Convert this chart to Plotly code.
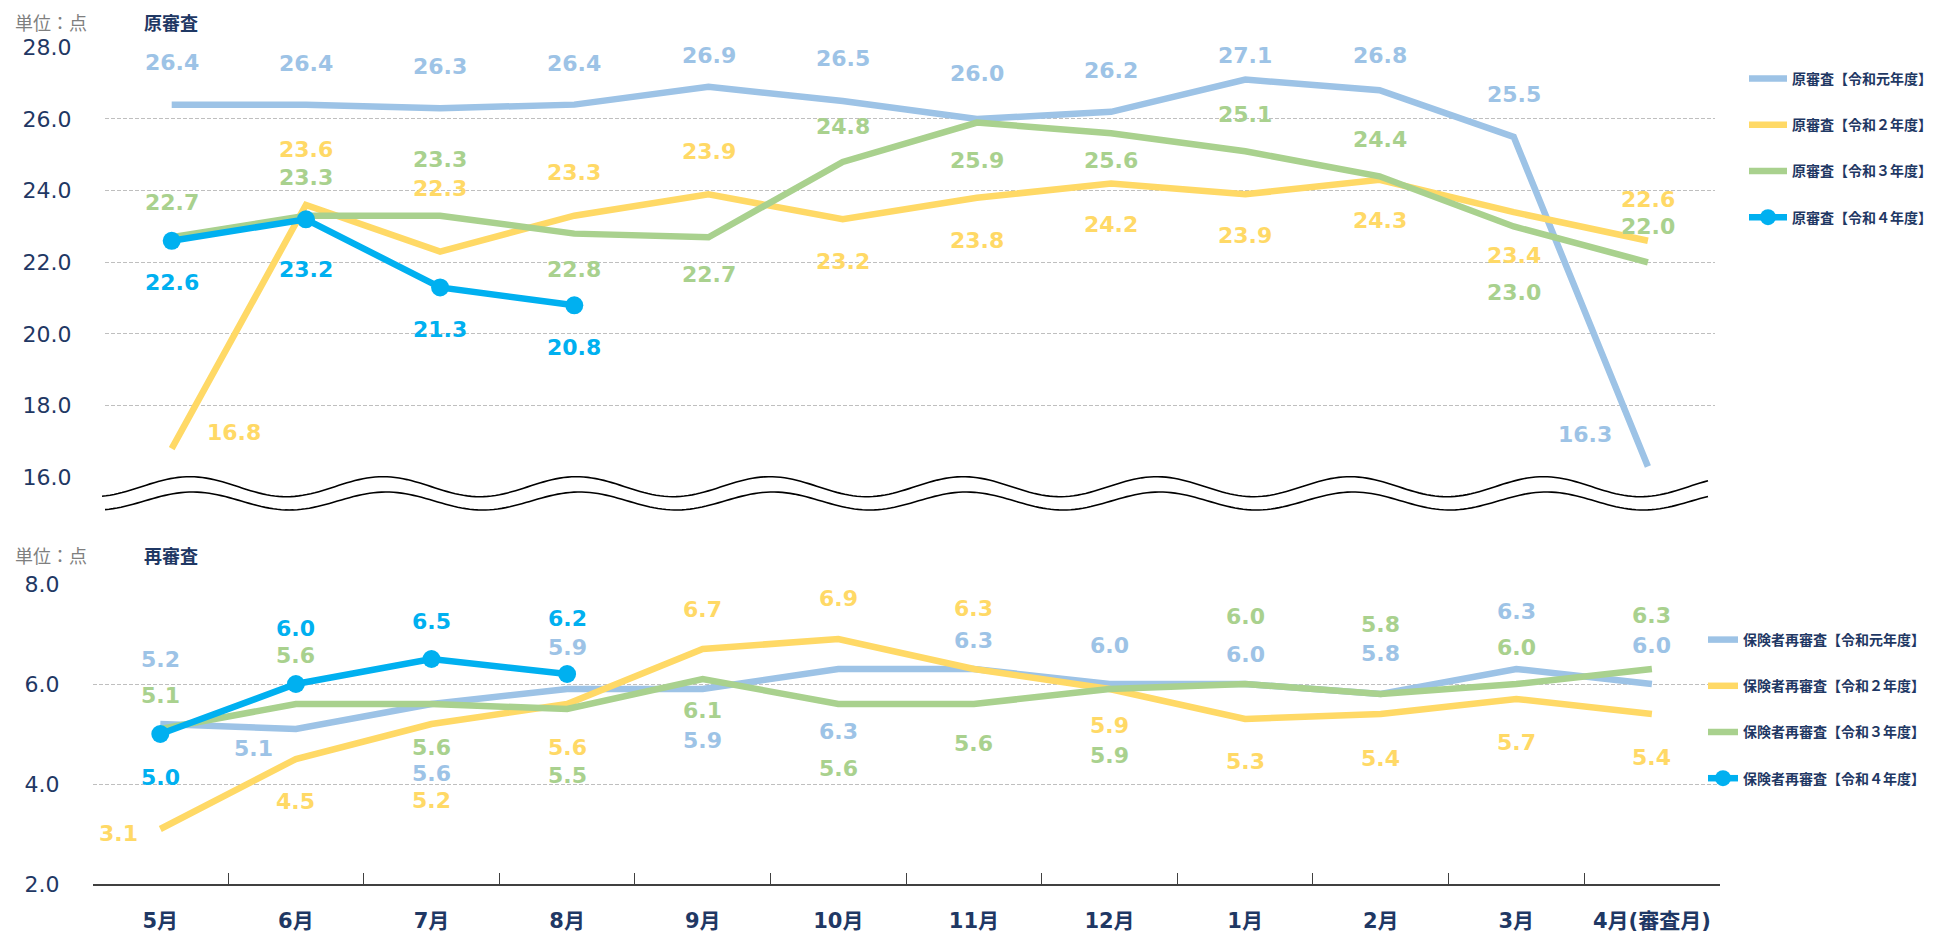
import math
import plotly.graph_objects as go

# ---------------- data ----------------
months = ["5月", "6月", "7月", "8月", "9月", "10月", "11月", "12月", "1月", "2月", "3月", "4月(審査月)"]

orig_names = ["原審査【令和元年度】", "原審査【令和２年度】", "原審査【令和３年度】", "原審査【令和４年度】"]
orig_r1 = [26.4, 26.4, 26.3, 26.4, 26.9, 26.5, 26.0, 26.2, 27.1, 26.8, 25.5, 16.3]
orig_r2 = [16.8, 23.6, 22.3, 23.3, 23.9, 23.2, 23.8, 24.2, 23.9, 24.3, 23.4, 22.6]
orig_r3 = [22.7, 23.3, 23.3, 22.8, 22.7, 24.8, 25.9, 25.6, 25.1, 24.4, 23.0, 22.0]
orig_r4 = [22.6, 23.2, 21.3, 20.8]

re_names = ["保険者再審査【令和元年度】", "保険者再審査【令和２年度】", "保険者再審査【令和３年度】", "保険者再審査【令和４年度】"]
re_r1 = [5.2, 5.1, 5.6, 5.9, 5.9, 6.3, 6.3, 6.0, 6.0, 5.8, 6.3, 6.0]
re_r2 = [3.1, 4.5, 5.2, 5.6, 6.7, 6.9, 6.3, 5.9, 5.3, 5.4, 5.7, 5.4]
re_r3 = [5.1, 5.6, 5.6, 5.5, 6.1, 5.6, 5.6, 5.9, 6.0, 5.8, 6.0, 6.3]
re_r4 = [5.0, 6.0, 6.5, 6.2]

top_ticks = [16, 18, 20, 22, 24, 26, 28]
bot_ticks = [2, 4, 6, 8]

# ---------------- styles ----------------
W, H = 1937, 937
colors = ["#9DC3E6", "#FFD966", "#A9D18E", "#00B0F0"]
NAVY = "#1F3864"
NUMFONT = "DejaVu Sans, Noto Sans CJK JP"
JPFONT = "Noto Sans CJK JP, DejaVu Sans"

# label offsets in pixels (dx right, dy down)
top_dy = [
    [-42, -41, -42, -41, -31, -43, -45, -41, -24, -35, -42, -32],
    [-16, -55, -63, -43, -43, 42, 43, 41, 41, 41, 43, -41],
    [-35, -38, -56, 36, 37, -35, 38, 27, -37, -37, 66, -36],
    [42, 50, 42, 42],
]
top_dx = [
    [0] * 11 + [-63],
    [62] + [0] * 11,
    [0] * 12,
    [0] * 4,
]
bot_dy = [
    [-65, 19, 69, -42, 51, 62, -29, -39, -30, -41, -58, -39],
    [4, 42, 76, 43, -40, -41, -61, 36, 42, 44, 43, 43],
    [-34, -49, 43, 66, 31, 64, 39, 66, -68, -70, -37, -54],
    [43, -56, -38, -56],
]
bot_dx = [
    [0, -42] + [0] * 10,
    [-42] + [0] * 11,
    [0] * 12,
    [0] * 4,
]


def px2x(px):
    return px / W


def px2y(py):
    return 1 - py / H


fig = go.Figure()

orig_series = [orig_r1, orig_r2, orig_r3, orig_r4]
re_series = [re_r1, re_r2, re_r3, re_r4]

for k, vals in enumerate(orig_series):
    is4 = k == 3
    fig.add_trace(go.Scatter(
        x=months[:len(vals)], y=vals, name=orig_names[k],
        mode="lines+markers" if is4 else "lines",
        line=dict(color=colors[k], width=6.5),
        marker=dict(size=18, color=colors[k]),
        xaxis="x", yaxis="y", legend="legend", legendgroup="o%d" % k,
        hoverinfo="skip",
    ))

for k, vals in enumerate(re_series):
    is4 = k == 3
    fig.add_trace(go.Scatter(
        x=months[:len(vals)], y=vals, name=re_names[k],
        mode="lines+markers" if is4 else "lines",
        line=dict(color=colors[k], width=6.5),
        marker=dict(size=18, color=colors[k]),
        xaxis="x2", yaxis="y2", legend="legend2", legendgroup="r%d" % k,
        hoverinfo="skip",
    ))

annotations = []
for k, vals in enumerate(orig_series):
    for i, v in enumerate(vals):
        annotations.append(dict(
            x=months[i], y=v, xref="x", yref="y", text="<b>%.1f</b>" % v,
            showarrow=False, xshift=top_dx[k][i], yshift=-top_dy[k][i],
            font=dict(family=NUMFONT, size=22, color=colors[k]),
        ))
for k, vals in enumerate(re_series):
    for i, v in enumerate(vals):
        annotations.append(dict(
            x=months[i], y=v, xref="x2", yref="y2", text="<b>%.1f</b>" % v,
            showarrow=False, xshift=bot_dx[k][i], yshift=-bot_dy[k][i],
            font=dict(family=NUMFONT, size=22, color=colors[k]),
        ))

# titles
for ypx, title in [(21.5, "原審査"), (555, "再審査")]:
    annotations.append(dict(
        x=px2x(13), y=px2y(ypx), xref="paper", yref="paper", xanchor="left", yanchor="middle",
        text="単位：点", showarrow=False, font=dict(family=JPFONT, size=18, color="#7F7F7F"),
    ))
    annotations.append(dict(
        x=px2x(142), y=px2y(ypx), xref="paper", yref="paper", xanchor="left", yanchor="middle",
        text="<b>%s</b>" % title, showarrow=False, font=dict(family=JPFONT, size=18, color=NAVY),
    ))

# wavy break lines (decoration)
shapes = []
for (x0, yc, amp, ph) in [(102, 486.7, 10, 93), (105, 501.0, 9, 96)]:
    pts = []
    n = 400
    x1 = 1708
    for j in range(n + 1):
        px = x0 + (x1 - x0) * j / n
        py = yc + amp * math.cos(2 * math.pi * (px - ph) / 193.4)
        pts.append("%.5f,%.5f" % (px2x(px), px2y(py)))
    shapes.append(dict(type="path", xref="paper", yref="paper",
                       path="M " + " L ".join(pts), line=dict(color="#000000", width=1.6)))

grid_common = dict(gridcolor="#BFBFBF", griddash="4px,2px", gridwidth=1, zeroline=False,
                   showline=False, ticks="", automargin=False,
                   tickfont=dict(family=NUMFONT, size=22, color=NAVY))

fig.update_layout(
    template="none",
    width=W, height=H, margin=dict(l=0, r=0, t=0, b=0, pad=0), autosize=False,
    paper_bgcolor="white", plot_bgcolor="white",
    showlegend=True,
    xaxis=dict(domain=[px2x(104.6), px2x(1715)], type="category", categoryorder="array",
               categoryarray=months, range=[-0.5, 11.5], showticklabels=False, automargin=False,
               showgrid=False, zeroline=False, showline=False, ticks="", anchor="y"),
    yaxis=dict(domain=[px2y(477.3), px2y(47.3)], range=[16, 28], tickvals=top_ticks,
               ticktext=["%.1f" % t for t in top_ticks], anchor="x", ticklabelstandoff=32,
               **grid_common),
    xaxis2=dict(domain=[px2x(92.5), px2x(1719.7)], type="category", categoryorder="array",
                categoryarray=months, range=[-0.5, 11.5], anchor="y2", automargin=False,
                showline=True, linecolor="#404040", linewidth=1.5,
                ticks="inside", tickson="boundaries", ticklen=11, tickcolor="#404040", tickwidth=1.3,
                showgrid=False, zeroline=False, ticklabelstandoff=17,
                tickfont=dict(family=NUMFONT, size=21, color=NAVY, weight="bold")),
    yaxis2=dict(domain=[px2y(884), px2y(584)], range=[2, 8], tickvals=bot_ticks,
                ticktext=["%.1f" % t for t in bot_ticks], anchor="x2", ticklabelstandoff=32,
                **grid_common),
    legend=dict(x=px2x(1744), y=px2y(63), xanchor="left", yanchor="top",
                itemwidth=38, tracegroupgap=25, bgcolor="rgba(0,0,0,0)", borderwidth=0,
                font=dict(family=JPFONT, size=14, color=NAVY, weight="bold")),
    legend2=dict(x=px2x(1703), y=px2y(624), xanchor="left", yanchor="top",
                 itemwidth=30, tracegroupgap=25, bgcolor="rgba(0,0,0,0)", borderwidth=0,
                 font=dict(family=JPFONT, size=14, color=NAVY, weight="bold")),
    annotations=annotations,
    shapes=shapes,
)

fig.write_html("out.html", config={"displayModeBar": False},
               post_script="document.body.style.margin='0';document.body.style.overflow='hidden';")
